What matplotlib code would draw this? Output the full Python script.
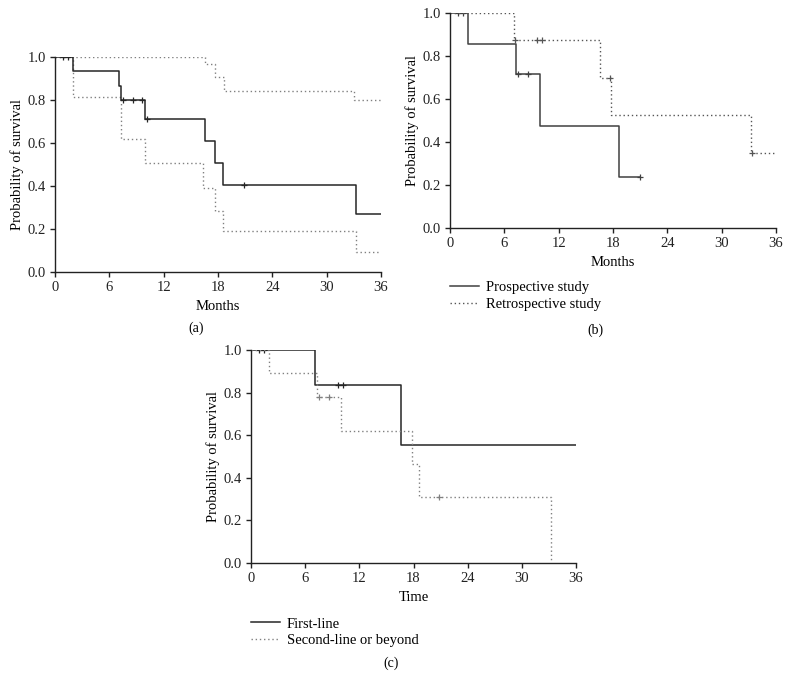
import numpy as np
import matplotlib
matplotlib.use("Agg")
import matplotlib.pyplot as plt

plt.rcParams['font.family'] = ['Liberation Serif', 'DejaVu Serif']
plt.rcParams['font.size'] = 10.5

# ---- Data ----
xticks = [0, 6, 12, 18, 24, 30, 36]
yticks = [0.0, 0.2, 0.4, 0.6, 0.8, 1.0]

# Panel (a)
a_solid_t = [0, 1.95, 7.07, 7.29, 9.9, 16.53, 17.7, 18.6, 33.2, 36]
a_solid_s = [1.0, 0.933, 0.867, 0.80, 0.711, 0.61, 0.507, 0.406, 0.271, 0.271]
a_solid_cens = [0.92, 1.47, 7.55, 8.65, 9.57, 10.12, 20.83]
a_upper_t = [0, 16.56, 17.67, 18.66, 33.05, 36]
a_upper_s = [1.0, 0.966, 0.907, 0.843, 0.80, 0.80]
a_lower_t = [0, 2.02, 7.25, 9.97, 16.38, 17.67, 18.59, 33.2, 36]
a_lower_s = [1.0, 0.815, 0.62, 0.505, 0.389, 0.285, 0.193, 0.093, 0.093]

# Panel (b)
b_labels = ["Prospective study", "Retrospective study"]
b_pro_t = [0, 2.02, 7.29, 9.9, 18.62, 20.98]
b_pro_s = [1.0, 0.858, 0.715, 0.476, 0.238, 0.238]
b_pro_cens = [0.92, 1.47, 7.55, 8.65, 20.98]
b_retro_t = [0, 7.1, 16.56, 17.74, 33.24, 36]
b_retro_s = [1.0, 0.876, 0.70, 0.526, 0.35, 0.35]
b_retro_cens = [7.15, 9.57, 10.12, 17.7, 33.3]

# Panel (c)
c_labels = ["First-line", "Second-line or beyond"]
c_first_t = [0, 7.13, 16.58, 36]
c_first_s = [1.0, 0.834, 0.555, 0.555]
c_first_cens = [0.92, 1.48, 9.6, 10.15]
c_second_t = [0, 2.0, 7.35, 9.93, 17.8, 18.65, 33.23]
c_second_s = [1.0, 0.89, 0.777, 0.622, 0.467, 0.312, 0.0]
c_second_cens = [7.57, 8.68, 20.86]

SOLID = dict(color="#262626", lw=1.1, linestyle="-")
DOTTED = dict(color="#808080", lw=1.0, linestyle=(0, (1, 2)))


def surv_at(t, times, surv):
    idx = np.searchsorted(times, t, side="right") - 1
    return np.asarray(surv)[idx]


def km(ax, times, surv, cens, style, label=None):
    ax.step(times, surv, where="post", label=label, **style)
    if cens:
        ax.plot(cens, surv_at(cens, times, surv), linestyle="none",
                marker="+", ms=4, mew=0.9, color=style["color"])


def style_ax(ax, xlabel):
    ax.set_xlim(0, 36)
    ax.set_ylim(0, 1.0)
    ax.set_xticks(xticks)
    ax.set_yticks(yticks)
    ax.set_yticklabels([f"{v:.1f}" for v in yticks])
    for s in ("top", "right"):
        ax.spines[s].set_visible(False)
    for s in ("left", "bottom"):
        ax.spines[s].set_linewidth(1.0)
        ax.spines[s].set_color("#222222")
    ax.tick_params(direction="out", length=3.5, width=1.0, colors="#222222",
                   labelsize=10.5, pad=3)
    ax.set_xlabel(xlabel, fontsize=10.5, labelpad=4)
    ax.set_ylabel("Probability of survival", fontsize=10.5, labelpad=2.5)


fig = plt.figure(figsize=(7.88, 6.78), dpi=100)

ax_a = fig.add_axes([55/788, 1-272/678, 326/788, 215/678])
ax_b = fig.add_axes([450/788, 1-228/678, 326/788, 215/678])
ax_c = fig.add_axes([251/788, 1-563/678, 325/788, 213/678])

# (a)
km(ax_a, a_upper_t, a_upper_s, [], DOTTED)
km(ax_a, a_lower_t, a_lower_s, [], DOTTED)
km(ax_a, a_solid_t, a_solid_s, a_solid_cens, SOLID)
style_ax(ax_a, "Months")

# (b)
km(ax_b, b_pro_t, b_pro_s, b_pro_cens, dict(SOLID, color="#404040"), b_labels[0])
km(ax_b, b_retro_t, b_retro_s, b_retro_cens, dict(DOTTED, color="#555555"), b_labels[1])
style_ax(ax_b, "Months")
ax_b.legend(loc="upper left", bbox_to_anchor=(0.0, -0.245), frameon=False,
            handlelength=2.0, handletextpad=0.45, labelspacing=0.25,
            borderpad=0, borderaxespad=0, fontsize=10.5)

# (c)
km(ax_c, c_first_t, c_first_s, c_first_cens, SOLID, c_labels[0])
km(ax_c, c_second_t, c_second_s, c_second_cens, DOTTED, c_labels[1])
style_ax(ax_c, "Time")
ax_c.legend(loc="upper left", bbox_to_anchor=(0.0, -0.255), frameon=False,
            handlelength=2.0, handletextpad=0.45, labelspacing=0.25,
            borderpad=0, borderaxespad=0, fontsize=10.5)

fig.text(196/788, 1-328/678, "(a)", ha="center", va="center", fontsize=10)
fig.text(595/788, 1-330/678, "(b)", ha="center", va="center", fontsize=10)
fig.text(391/788, 1-663/678, "(c)", ha="center", va="center", fontsize=10)

fig.savefig("out.png", dpi=100)
